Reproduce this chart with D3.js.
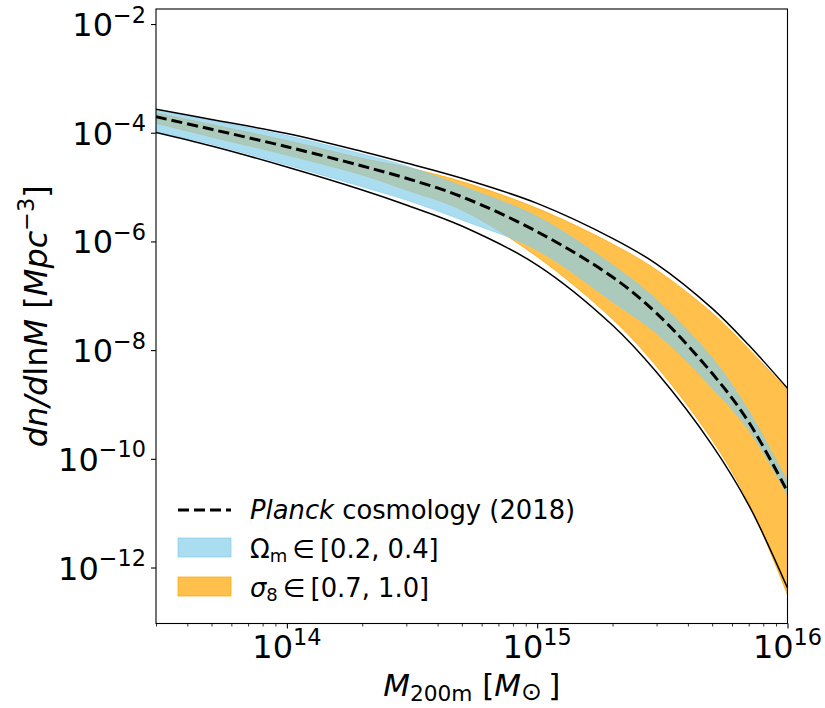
<!DOCTYPE html>
<html><head><meta charset="utf-8">
<script src="https://cdn.jsdelivr.net/npm/d3@7"></script>
<style>
body{margin:0;background:#fff}
svg{display:block}
text{font-family:"DejaVu Sans",sans-serif;fill:#000}
</style>
</head><body>
<svg id="c" width="825" height="708"></svg>
<script>
// ---- data ----
const mass = [3e13, 5e13, 1e14, 2e14, 3e14, 5e14, 1e15, 2e15, 3e15, 5e15, 7e15, 1e16];
const planck = [1.97e-4, 1.156e-4, 5.52e-5, 2.44e-5, 1.45e-5, 6.64e-6, 1.51e-6, 2.21e-7, 4.75e-8, 3.74e-9, 4.75e-10, 2.48e-11];
const envelopeUpper = [2.70e-4, 1.75e-4, 9.66e-5, 4.51e-5, 2.77e-5, 1.45e-5, 5.02e-6, 1.14e-6, 3.84e-7, 5.87e-8, 1.24e-8, 1.98e-9];
const envelopeLower = [1.01e-4, 5.69e-5, 2.34e-5, 8.83e-6, 4.68e-6, 1.92e-6, 3.68e-7, 2.87e-8, 3.90e-9, 1.79e-10, 1.41e-11, 4.20e-13];
const omegaUpper = [2.56e-4, 1.68e-4, 8.87e-5, 4.06e-5, 2.44e-5, 1.04e-5, 2.84e-6, 3.68e-7, 8.36e-8, 7.16e-9, 7.57e-10, 3.74e-11];
const omegaLower = [1.04e-4, 6.12e-5, 2.55e-5, 1.01e-5, 5.78e-6, 2.48e-6, 6.95e-7, 7.76e-8, 2.04e-8, 2.01e-9, 3.39e-10, 2.16e-11];
const sigmaUpper = [2.33e-4, 1.42e-4, 7.18e-5, 3.38e-5, 2.31e-5, 1.26e-5, 4.06e-6, 8.95e-7, 2.98e-7, 4.82e-8, 1.05e-8, 1.85e-9];
const sigmaLower = [1.49e-4, 8.34e-5, 3.89e-5, 1.67e-5, 8.83e-6, 3.78e-6, 5.22e-7, 3.70e-8, 5.00e-9, 2.22e-10, 1.54e-11, 3.12e-13];
const xTickExp = [14, 15, 16];
const yTickExp = [-12, -10, -8, -6, -4, -2];
const xDomain = [3e13, 1e16];
const yDomain = [9.33e-14, 1.89e-2];

// ---- layout ----
const L = 156, R = 787.5, T = 9, B = 623.5;
const svg = d3.select("#c");
const x = d3.scaleLog().domain(xDomain).range([L, R]);
const y = d3.scaleLog().domain(yDomain).range([B, T]);

svg.append("defs").append("clipPath").attr("id", "clip")
  .append("rect").attr("x", L).attr("y", T).attr("width", R - L).attr("height", B - T);
const plot = svg.append("g").attr("clip-path", "url(#clip)");

const curve = d3.curveCatmullRom.alpha(0.5);
const pts = arr => mass.map((m, i) => ({m, v: arr[i]}));
const band = (lo, hi) => mass.map((m, i) => ({m, lo: lo[i], hi: hi[i]}));
const area = d3.area().x(d => x(d.m)).y0(d => y(d.lo)).y1(d => y(d.hi)).curve(curve);
const line = d3.line().x(d => x(d.m)).y(d => y(d.v)).curve(curve);

const ORANGE = "#FFA500", BLUE = "#87CEEB";
plot.append("path").attr("d", area(band(sigmaLower, sigmaUpper)))
  .attr("fill", ORANGE).attr("fill-opacity", 0.7)
  .attr("stroke", ORANGE).attr("stroke-opacity", 0.7).attr("stroke-width", 1);
plot.append("path").attr("d", area(band(omegaLower, omegaUpper)))
  .attr("fill", BLUE).attr("fill-opacity", 0.7)
  .attr("stroke", BLUE).attr("stroke-opacity", 0.7).attr("stroke-width", 1);
[envelopeUpper, envelopeLower].forEach(a => {
  plot.append("path").attr("d", line(pts(a))).attr("fill", "none")
    .attr("stroke", "#000").attr("stroke-width", 1.5);
});
plot.append("path").attr("d", line(pts(planck))).attr("fill", "none")
  .attr("stroke", "#000").attr("stroke-width", 3).attr("stroke-dasharray", "11,5");

// ---- axes ----
const minorX = [];
[13, 14, 15].forEach(e => { for (let k = 2; k <= 9; k++) { const v = k * Math.pow(10, e); if (v >= xDomain[0] && v <= xDomain[1]) minorX.push(v); } });
const xAxisMajor = d3.axisBottom(x).tickValues(xTickExp.map(e => Math.pow(10, e))).tickSize(5).tickFormat("");
const xAxisMinor = d3.axisBottom(x).tickValues(minorX).tickSize(3).tickFormat("");
const yAxis = d3.axisLeft(y).tickValues(yTickExp.map(e => Math.pow(10, e))).tickSize(5).tickFormat("");
const gx1 = svg.append("g").attr("transform", `translate(0,${B})`).call(xAxisMajor);
const gx2 = svg.append("g").attr("transform", `translate(0,${B})`).call(xAxisMinor);
const gy = svg.append("g").attr("transform", `translate(${L},0)`).call(yAxis);
[gx1, gx2, gy].forEach(g => { g.select(".domain").remove(); g.selectAll("line").attr("stroke", "#000").attr("stroke-width", 1.1); });
gx2.selectAll("line").attr("stroke-width", 0.8);

svg.append("rect").attr("x", L).attr("y", T).attr("width", R - L).attr("height", B - T)
  .attr("fill", "none").attr("stroke", "#000").attr("stroke-width", 1.1);

// tick labels with superscripts
xTickExp.forEach(e => {
  const t = svg.append("text").attr("x", x(Math.pow(10, e))).attr("y", 658)
    .attr("text-anchor", "middle").attr("font-size", 32);
  t.append("tspan").text("10");
  t.append("tspan").attr("font-size", 22.4).attr("dy", -13.5).text(String(e));
});
yTickExp.forEach(e => {
  const t = svg.append("text").attr("x", 146).attr("y", y(Math.pow(10, e)) + 12)
    .attr("text-anchor", "end").attr("font-size", 32);
  t.append("tspan").text("10");
  t.append("tspan").attr("font-size", 22.4).attr("dy", -13.5).text("\u2212" + Math.abs(e));
});

// axis labels
const xl = svg.append("text").attr("x", (L + R) / 2).attr("y", 696).attr("text-anchor", "middle").attr("font-size", 31);
xl.append("tspan").attr("font-style", "italic").text("M");
xl.append("tspan").attr("font-size", 21.7).attr("dy", 4.5).text("200m");
xl.append("tspan").attr("dy", -4.5).text(" [");
xl.append("tspan").attr("font-style", "italic").text("M");
xl.append("tspan").attr("font-size", 25).attr("dy", 4).text("\u2299");
xl.append("tspan").attr("dy", -4).text("\u2009]");

const yl = svg.append("text").attr("transform", `translate(47,${(T + B) / 2}) rotate(-90)`)
  .attr("text-anchor", "middle").attr("font-size", 32);
yl.append("tspan").attr("font-style", "italic").text("dn/d");
yl.append("tspan").text("ln");
yl.append("tspan").attr("font-style", "italic").text("M");
yl.append("tspan").text(" [");
yl.append("tspan").attr("font-style", "italic").text("Mpc");
yl.append("tspan").attr("font-size", 22.4).attr("dy", -13).text("\u22123");
yl.append("tspan").attr("dy", 13).text("]");

// legend
const lg = svg.append("g");
lg.append("line").attr("x1", 178).attr("x2", 231).attr("y1", 510).attr("y2", 510)
  .attr("stroke", "#000").attr("stroke-width", 3).attr("stroke-dasharray", "11,5");
lg.append("rect").attr("x", 178).attr("y", 538).attr("width", 53).attr("height", 19)
  .attr("fill", BLUE).attr("fill-opacity", 0.7).attr("stroke", BLUE).attr("stroke-opacity", 0.7);
lg.append("rect").attr("x", 178).attr("y", 577).attr("width", 53).attr("height", 19)
  .attr("fill", ORANGE).attr("fill-opacity", 0.7).attr("stroke", ORANGE).attr("stroke-opacity", 0.7);
const t1 = lg.append("text").attr("x", 250).attr("y", 519).attr("font-size", 25.8);
t1.append("tspan").attr("font-style", "italic").text("Planck");
t1.append("tspan").text(" cosmology (2018)");
const t2 = lg.append("text").attr("x", 250).attr("y", 558).attr("font-size", 25.8);
t2.append("tspan").text("\u03A9");
t2.append("tspan").attr("font-size", 18).attr("dy", 4).text("m");
t2.append("tspan").attr("dy", -4).text("\u2009\u2208\u2009[0.2, 0.4]");
const t3 = lg.append("text").attr("x", 250).attr("y", 597).attr("font-size", 25.8);
t3.append("tspan").attr("font-style", "italic").text("\u03C3");
t3.append("tspan").attr("font-size", 18).attr("dy", 4).text("8");
t3.append("tspan").attr("dy", -4).text("\u2009\u2208\u2009[0.7, 1.0]");
</script>
</body></html>
